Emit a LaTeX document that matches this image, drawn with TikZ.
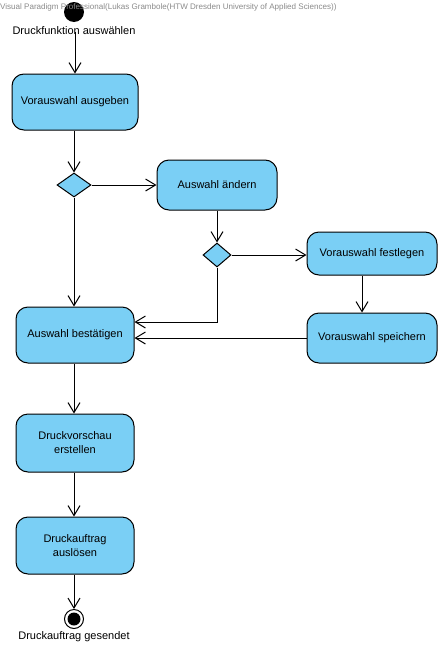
\documentclass[tikz,border=0pt]{standalone}
\usepackage{fontspec}
\setmainfont{Liberation Sans}
\usetikzlibrary{arrows.meta,shapes.geometric,calc}
\definecolor{actfill}{HTML}{7ACFF5}
\definecolor{wm}{HTML}{8A8A8A}
\tikzset{
  act/.style={draw=black, fill=actfill, rounded corners=12pt, line width=1pt, align=center, inner sep=0pt, font=\fontsize{11}{14}\selectfont},
  dec/.style={draw=black, fill=actfill, diamond, line width=1pt, inner sep=0pt},
  flow/.style={line width=1pt, -{Straight Barb[length=10pt,width=12pt,line width=1pt]}},
  lbl/.style={font=\fontsize{11}{14}\selectfont, inner sep=0pt}
}
\begin{document}
\begin{tikzpicture}[x=1pt,y=-1pt]
\useasboundingbox (0,0) rectangle (440,648);
% start
\node[circle, fill=black, minimum size=20pt, inner sep=0pt] (start) at (74,12) {};
\node[anchor=west, inner sep=0pt, text=wm, font=\fontsize{8.05}{9}\selectfont] (wmark) at (0,7) {Visual Paradigm Professional(Lukas Grambole(HTW Dresden University of Applied Sciences))};
\node[lbl] (startlabel) at (74,31) {Druckfunktion auswählen};
% activities
\node[act, minimum width=126pt, minimum height=56pt] (va) at (75,102) {Vorauswahl ausgeben};
\node[dec, minimum width=34pt, minimum height=24pt, aspect=1.42] (d1) at (74,185) {};
\node[act, minimum width=120pt, minimum height=50pt] (aa) at (217,185) {Auswahl ändern};
\node[dec, minimum width=28pt, minimum height=24pt, aspect=1.17] (d2) at (217,255) {};
\node[act, minimum width=130pt, minimum height=43pt] (vf) at (372,253.5) {Vorauswahl festlegen};
\node[act, minimum width=130pt, minimum height=50pt] (vs) at (372,338) {Vorauswahl speichern};
\node[act, minimum width=118pt, minimum height=56pt] (ab) at (75,335) {Auswahl bestätigen};
\node[act, minimum width=118pt, minimum height=58pt] (dv) at (75,443) {Druckvorschau\\erstellen};
\node[act, minimum width=118pt, minimum height=57pt] (da) at (75,545.5) {Druckauftrag\\auslösen};
% end
\node[circle, draw=black, line width=1pt, fill=white, minimum size=19pt, inner sep=0pt] (end) at (74,619) {};
\node[circle, fill=black, minimum size=13pt, inner sep=0pt] (endin) at (end) {};
\node[lbl] (endlabel) at (74,637) {Druckauftrag gesendet};
% flows
\draw[flow] ([yshift=3pt]startlabel.south -| va.north) -- (va.north);
\draw[flow] (va.south -| d1.north) -- (d1.north);
\draw[flow] (d1.east) -- (aa.west);
\draw[flow] (d1.south) -- (d1.south |- ab.north);
\draw[flow] (aa.south) -- (d2.north);
\draw[flow] (d2.east) -- (d2.east -| vf.west);
\draw[flow] (d2.south) |- ($(ab.east)+(0,-13)$);
\draw[flow] ([xshift=-10pt]vf.south) -- ([xshift=-10pt]vs.north);
\draw[flow] (vs.west) -- (vs.west -| ab.east);
\draw[flow] (ab.south -| 74,0) -- (dv.north -| 74,0);
\draw[flow] (dv.south -| 74,0) -- (da.north -| 74,0);
\draw[flow] (da.south -| 74,0) -- (end.north);
\end{tikzpicture}
\end{document}
